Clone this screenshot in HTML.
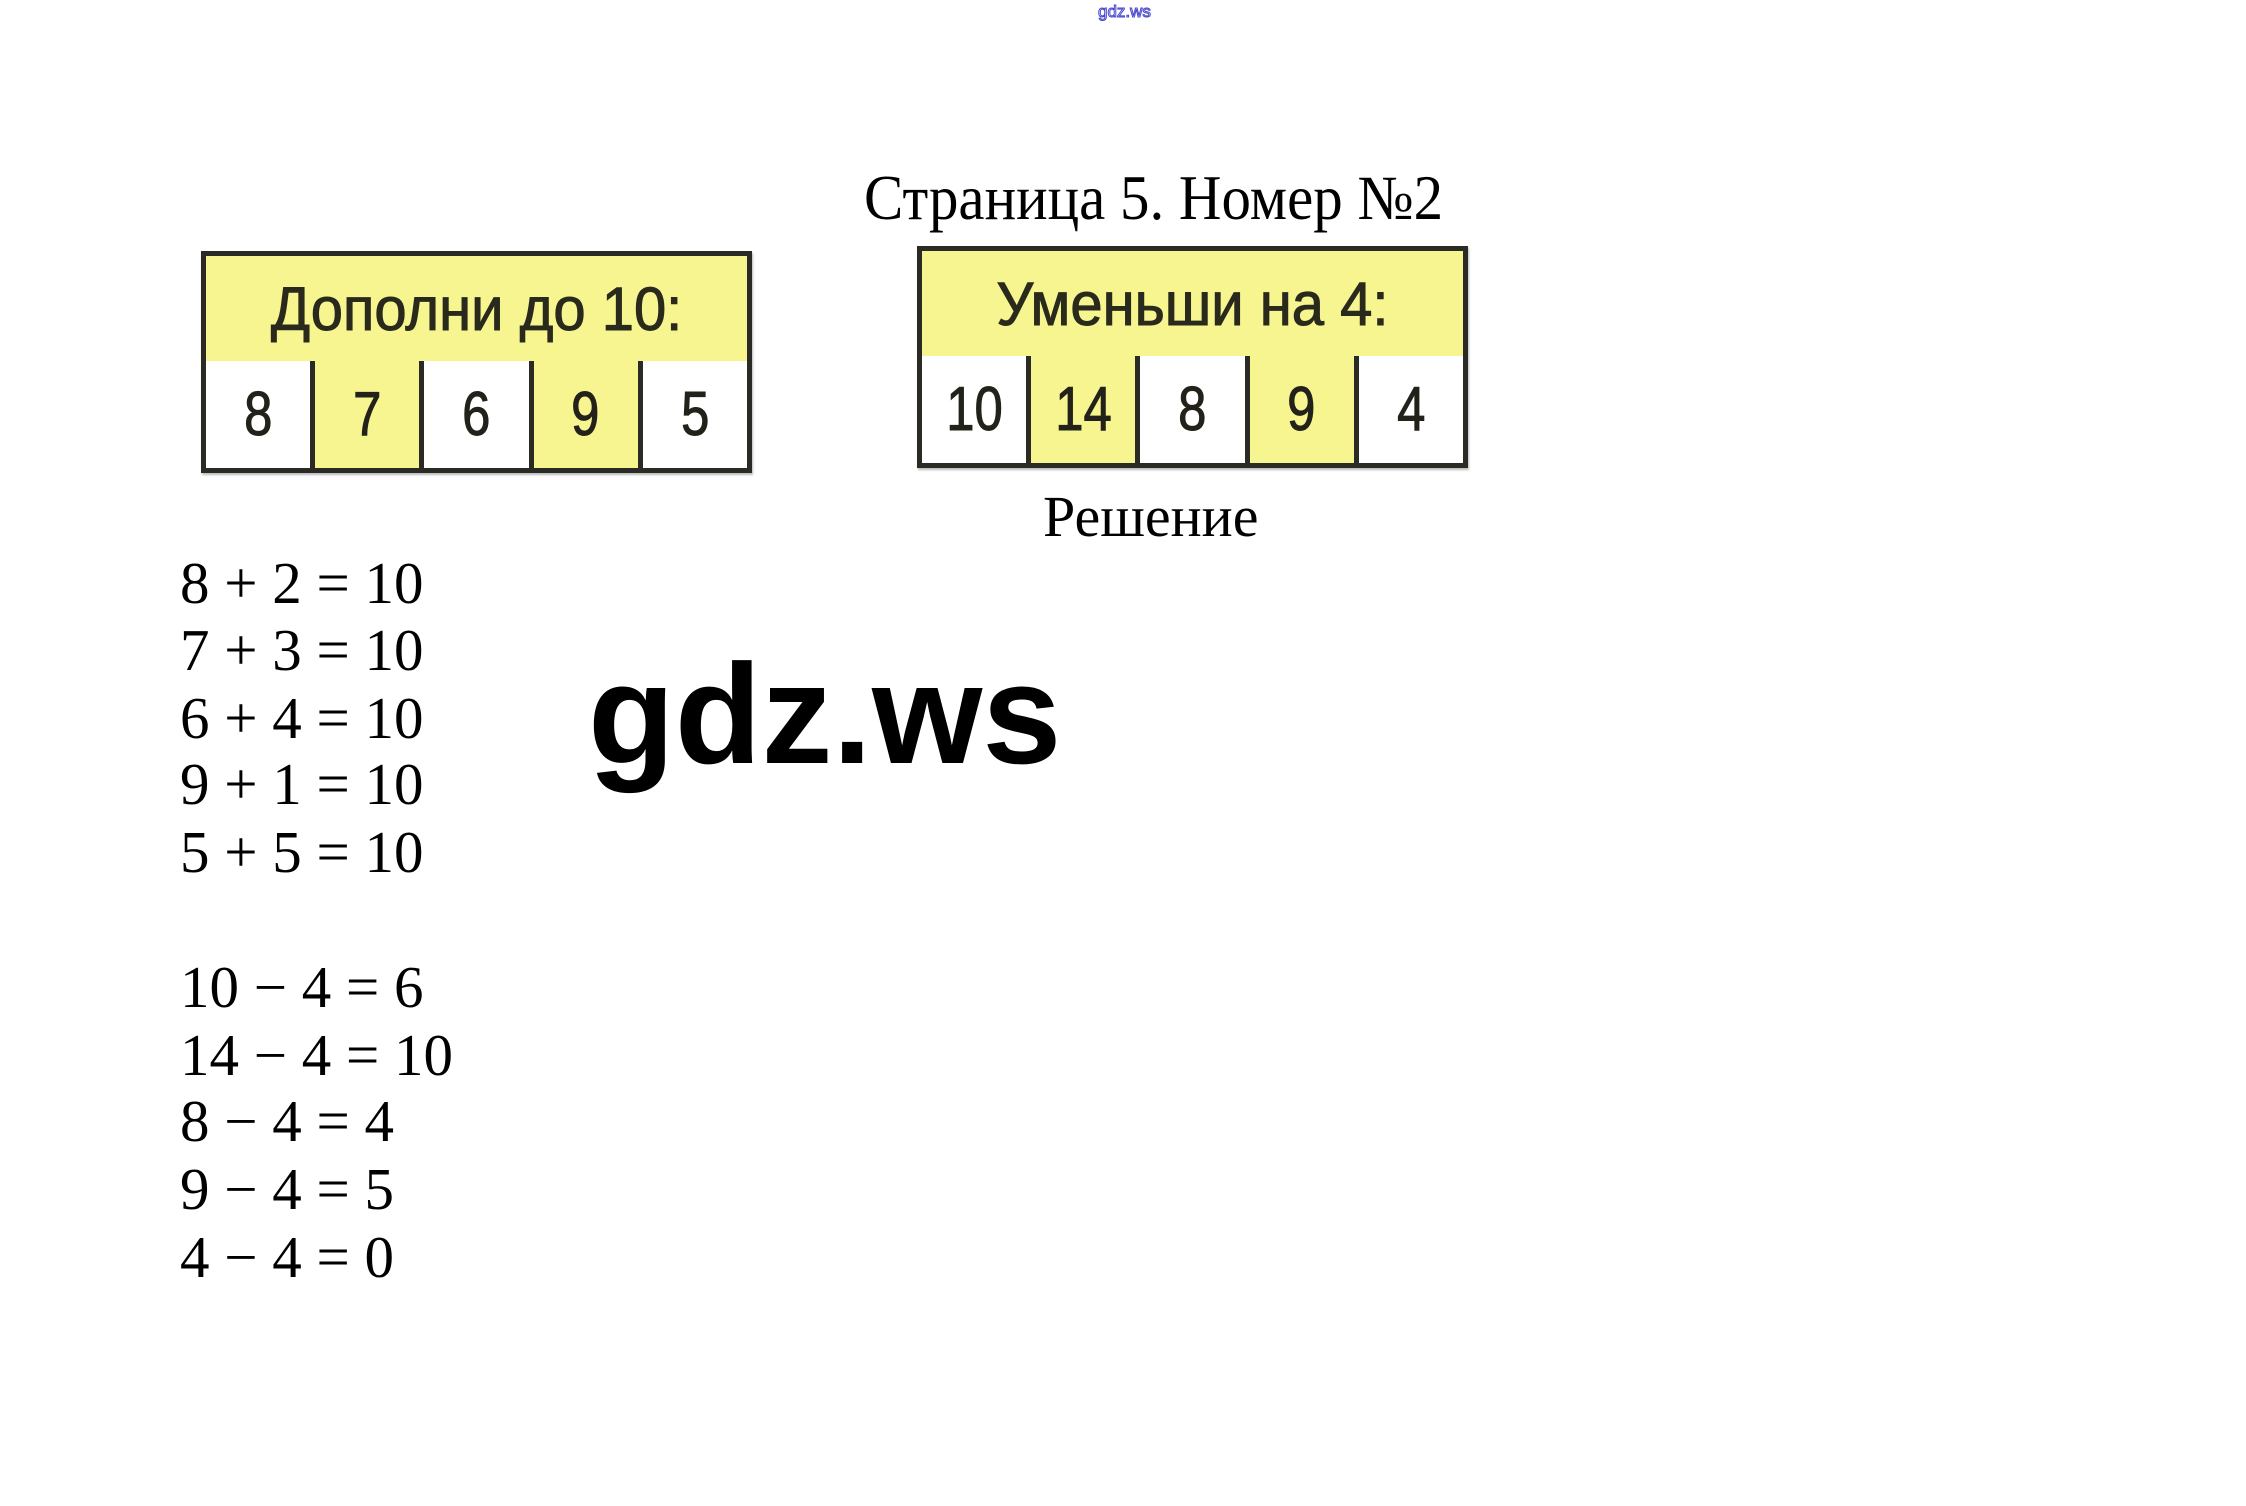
<!DOCTYPE html>
<html><head><meta charset="utf-8"><style>
html,body{margin:0;padding:0;background:#fff;}
body{width:2246px;height:1506px;position:relative;overflow:hidden;}
.t{position:absolute;white-space:nowrap;font-family:"Liberation Serif",serif;color:#000;line-height:1;}
.box{position:absolute;border:5px solid #2b2b25;background:#f7f590;box-sizing:border-box;box-shadow:1px 2px 2px #bbb;}
.hdr{position:absolute;left:0;right:0;top:0;border-bottom:5px solid #2b2b25;display:flex;align-items:center;justify-content:center;font-family:"Liberation Sans",sans-serif;font-size:61px;color:#2a2a1c;box-sizing:border-box;}
.hdr span{display:inline-block;transform:scaleX(0.95);-webkit-text-stroke:1px #2a2a1c;}
.row{position:absolute;left:0;right:0;bottom:0;display:flex;}
.c{flex:1;display:flex;align-items:center;justify-content:center;font-family:"Liberation Sans",sans-serif;font-size:62px;color:#22221a;border-left:5px solid #2b2b25;background:#fff;}
.c:first-child{border-left:none;}
.c.y{background:#f7f590;}
.c span{display:inline-block;transform:scaleX(0.82);-webkit-text-stroke:1px #22221a;}
</style></head><body>
<div class="t" style="left:1098px;top:3px;font-family:'Liberation Sans',sans-serif;font-size:17px;color:#fff;-webkit-text-stroke:1px #4444cc;">gdz.ws</div>
<div class="t" style="left:864px;top:167px;font-size:63px;transform:scaleX(0.935);transform-origin:left;">Страница 5. Номер №2</div>

<div class="box" style="left:201px;top:251px;width:551px;height:222px;">
  <div class="hdr" style="height:110px;"><span>Дополни до 10:</span></div>
  <div class="row" style="height:107px;">
    <div class="c"><span>8</span></div><div class="c y"><span>7</span></div><div class="c"><span>6</span></div><div class="c y"><span>9</span></div><div class="c"><span>5</span></div>
  </div>
</div>

<div class="box" style="left:917px;top:246px;width:551px;height:222px;">
  <div class="hdr" style="height:110px;"><span>Уменьши на 4:</span></div>
  <div class="row" style="height:107px;">
    <div class="c"><span>10</span></div><div class="c y"><span>14</span></div><div class="c"><span>8</span></div><div class="c y"><span>9</span></div><div class="c"><span>4</span></div>
  </div>
</div>

<div class="t" style="left:1043px;top:488px;font-size:58px;">Решение</div>

<div class="t" style="left:180px;top:554px;font-size:59px;">8 + 2 = 10</div>
<div class="t" style="left:180px;top:621px;font-size:59px;">7 + 3 = 10</div>
<div class="t" style="left:180px;top:689px;font-size:59px;">6 + 4 = 10</div>
<div class="t" style="left:180px;top:755px;font-size:59px;">9 + 1 = 10</div>
<div class="t" style="left:180px;top:823px;font-size:59px;">5 + 5 = 10</div>

<div class="t" style="left:180px;top:958px;font-size:59px;">10 − 4 = 6</div>
<div class="t" style="left:180px;top:1026px;font-size:59px;">14 − 4 = 10</div>
<div class="t" style="left:180px;top:1092px;font-size:59px;">8 − 4 = 4</div>
<div class="t" style="left:180px;top:1160px;font-size:59px;">9 − 4 = 5</div>
<div class="t" style="left:180px;top:1228px;font-size:59px;">4 − 4 = 0</div>

<div class="t" style="left:588px;top:644px;font-family:'Liberation Sans',sans-serif;font-weight:bold;font-size:142px;">gdz.ws</div>
</body></html>
